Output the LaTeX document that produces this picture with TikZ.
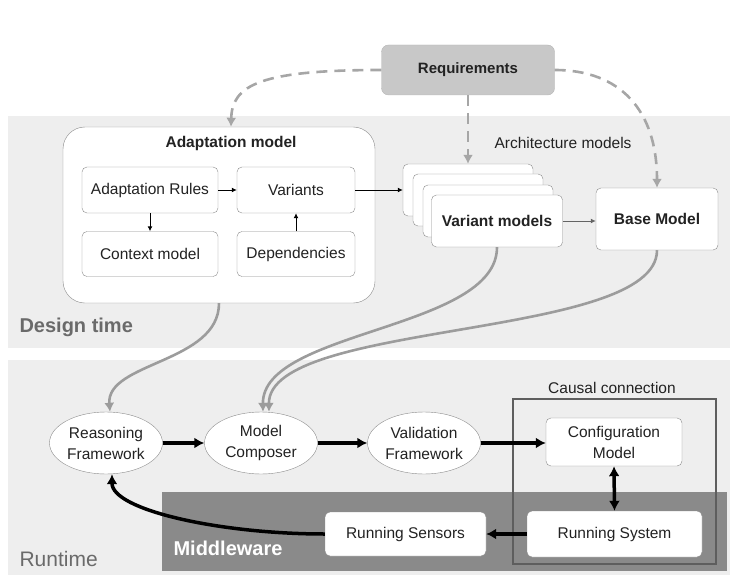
\documentclass[tikz,border=0pt]{standalone}
\usepackage{fontspec}
\setmainfont{Liberation Sans}
\usepackage{tikz}
\usetikzlibrary{arrows.meta,shapes.geometric}
\definecolor{band}{HTML}{EEEEEE}
\definecolor{reqfill}{HTML}{C8C8C8}
\definecolor{boxline}{HTML}{8C8C8C}
\definecolor{middle}{HTML}{8A8A8A}
\definecolor{causalline}{HTML}{5E5E5E}
\definecolor{flowgray}{HTML}{9C9C9C}
\definecolor{dashgray}{HTML}{A6A6A6}
\definecolor{labelgray}{HTML}{6A6A6A}
\definecolor{textdark}{HTML}{222222}
\tikzset{%
    box/.style={draw=boxline, fill=white, rounded corners=5pt, align=center,
        inner sep=0pt, text=textdark},
    bubble/.style={ellipse, draw=boxline, fill=white, align=center, inner sep=0pt,
        minimum width=113pt, minimum height=62pt, text=textdark},
    thinarrow/.style={line width=1pt, -{Latex[length=5pt,width=5pt]}},
    thickarrow/.style={line width=3.5pt, -{Latex[length=10pt,width=11pt]}},
    grayflow/.style={draw=flowgray, line width=2.6pt,
        -{Latex[length=9pt,width=10pt]}, color=flowgray},
    dashflow/.style={draw=dashgray, line width=2.6pt, dash pattern=on 11pt off 7pt,
        -{Latex[length=9pt,width=10pt]}, color=dashgray}
}

\begin{document}
\begin{tikzpicture}[x=1pt, y=-1pt, font=\fontsize{15.5}{21}\selectfont]
        \useasboundingbox (0,0) rectangle (730,580);

        % bands
        \fill[band] (8,116) rectangle (730,348);
        \fill[band] (8,360) rectangle (730,575);
        \fill[middle] (162,492) rectangle (727,571);
        \node[anchor=west, text=labelgray, font=\fontsize{20}{24}\selectfont\bfseries] (designlbl) at (16,327) {Design time};
        \node[anchor=west, text=labelgray, font=\fontsize{21}{24}\selectfont] (runtimelbl) at (16,559) {Runtime};
        \node[anchor=west, text=white, font=\fontsize{20}{24}\selectfont\bfseries] (middlelbl) at (170,548) {Middleware};

        % design time
        \node[box, fill=reqfill, draw=reqfill!90!black, minimum width=173pt, minimum height=50pt,
            rounded corners=7pt, font=\fontsize{15}{18}\selectfont\bfseries] (req) at (468,70) {Requirements};

        \node[box, rounded corners=22pt, minimum width=312pt, minimum height=176pt] (adapt) at (219,215) {};
        \node[text=textdark, font=\fontsize{15.5}{18}\selectfont\bfseries] (adapttitle) at (231,143) {Adaptation model};
        \node[box, minimum width=136pt, minimum height=46pt] (rules) at (150,190) {Adaptation Rules};
        \node[box, minimum width=118pt, minimum height=46pt] (variants) at (296,190) {Variants};
        \node[box, minimum width=136pt, minimum height=45pt] (context) at (150,254) {Context model};
        \node[box, minimum width=118pt, minimum height=45pt] (deps) at (296,254) {Dependencies};

        \node[box, minimum width=130pt, minimum height=52pt] (vm1) at (468,190) {};
        \node[box, minimum width=130pt, minimum height=52pt] (vm2) at (478,200) {};
        \node[box, minimum width=130pt, minimum height=52pt] (vm3) at (488,211) {};
        \node[box, minimum width=131pt, minimum height=52pt, font=\fontsize{15.5}{18}\selectfont\bfseries] (vm4) at (497,221) {Variant models};
        \node[text=textdark] (archlbl) at (563,143) {Architecture models};
        \node[box, minimum width=122pt, minimum height=62pt, font=\fontsize{15.5}{18}\selectfont\bfseries] (base) at (657,219) {Base Model};

        \draw[thinarrow] (rules.east) -- (variants.west);
        \draw[thinarrow] (rules.south) -- (context.north);
        \draw[thinarrow] (deps.north) -- (variants.south);
        \draw[thinarrow] (variants.east) -- (vm1.west);
        \draw[thinarrow, draw=textdark!70] (vm4.east) -- (vm4.east -| base.west);

        \draw[dashflow] (req.west) .. controls (260,70) and (232,85) .. (adapttitle |- adapt.north);
        \draw[dashflow] (req.south) -- (vm1.north);
        \draw[dashflow] (req.east) .. controls (620,70) and (657,110) .. (base.north);

        % runtime
        \node[bubble] (reason) at (106,443) {Reasoning\\Framework};
        \node[bubble] (composer) at (261,443) {Model\\Composer};
        \node[bubble] (valid) at (424,443) {Validation\\Framework};

        \node[draw=causalline, line width=2pt, minimum width=203pt, minimum height=165pt] (causal) at (614.5,481.5) {};
        \node[text=textdark] (causallbl) at (612,388) {Causal connection};
        \node[box, minimum width=136pt, minimum height=48pt] (config) at (614,442) {Configuration\\Model};
        \node[box, minimum width=175pt, minimum height=46pt] (runsys) at (614.5,534) {Running System};
        \node[box, minimum width=161pt, minimum height=44pt] (sensors) at (405.5,534) {Running Sensors};

        \draw[thickarrow] (reason.east) -- (composer.west);
        \draw[thickarrow] (composer.east) -- (valid.west);
        \draw[thickarrow] (valid.east) -- (valid.east -| config.west);
        \draw[line width=3.5pt, {Latex[length=10pt,width=11pt]}-{Latex[length=10pt,width=11pt]}] (config.south) -- (runsys.north);
        \draw[thickarrow] (runsys.west) -- (sensors.east);
        \draw[thickarrow] (sensors.west) .. controls (220,534) and (112,510) .. ([xshift=6pt]reason.south);

        % design time to runtime
        \draw[grayflow] (adapt.south) .. controls (219,363) and (106,362) .. ([xshift=4pt]reason.north);
        \draw[grayflow] (vm4.south) .. controls (497,330) and (262,330) .. ([xshift=2pt]composer.north);
        \draw[grayflow] (base.south) .. controls (657,340) and (268,320) .. ([xshift=8pt]composer.north);
    \end{tikzpicture}
\end{document}
